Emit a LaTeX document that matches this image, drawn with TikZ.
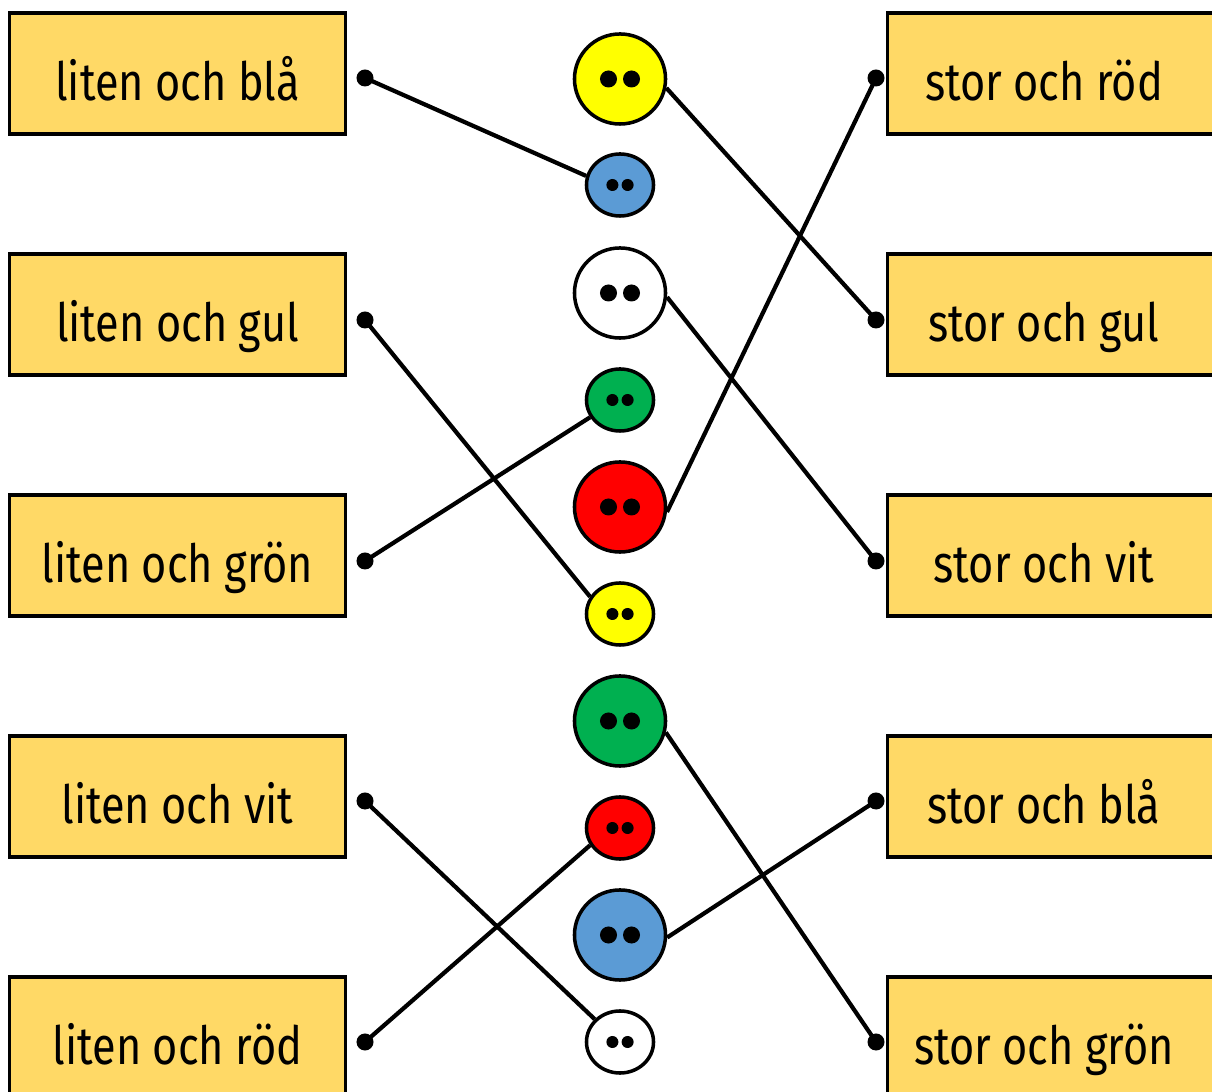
\documentclass[tikz,border=0pt]{standalone}
\usepackage{fontspec}
\setmainfont{Fira Sans}[FakeStretch=0.82]
\usetikzlibrary{calc,shapes.geometric}
\definecolor{boxgold}{HTML}{FFD966}
\definecolor{btnblue}{HTML}{5B9BD5}
\definecolor{btngreen}{HTML}{00B050}
\definecolor{btnred}{HTML}{FF0000}
\definecolor{btnyellow}{HTML}{FFFF00}

\begin{document}
\begin{tikzpicture}[x=0.01cm,y=-0.01cm,
    lbl/.style={font=\fontsize{15}{18}\selectfont, text height=0.6cm, text depth=0.07cm},
    box/.style={draw, line width=0.9pt, fill=boxgold, minimum height=1.21cm, inner sep=0pt},
    lbox/.style={box, lbl, minimum width=3.35cm},
    rbox/.style={box, minimum width=3.4cm, label={[lbl, xshift=-0.14cm]center:#1}},
    pin/.style={circle, fill, inner sep=0pt, minimum size=0.17cm},
    wire/.style={line width=1.2pt},
    btn/.style={ellipse, draw, line width=1pt, fill=#1, inner sep=0pt},
    big/.style={minimum width=0.91cm, minimum height=0.9cm, path picture={
        \fill[black] ($(path picture bounding box.center)+(-0.115cm,0)$) circle (0.085cm)
              ($(path picture bounding box.center)+(0.115cm,0)$) circle (0.085cm);}},
    small/.style={minimum width=0.67cm, minimum height=0.62cm, path picture={
        \fill[black] ($(path picture bounding box.center)+(-0.076cm,0)$) circle (0.06cm)
              ($(path picture bounding box.center)+(0.076cm,0)$) circle (0.06cm);}}]
        \useasboundingbox (0,0) rectangle (1212,1092);
        % liten
        \node[lbox] (lBla) at (177.5,73.5){liten och blå};
        \node[lbox] (lGul) at (177.5,314.5){liten och gul};
        \node[lbox] (lGron) at (177.5,555.5){liten och grön};
        \node[lbox] (lVit) at (177.5,796.5){liten och vit};
        \node[lbox] (lRod) at (177.5,1037.5){liten och röd};
        % stor
        \node[rbox={stor och röd}] (sRod) at (1058,73.5){};
        \node[rbox={stor och gul}] (sGul) at (1058,314.5){};
        \node[rbox={stor och vit}] (sVit) at (1058,555.5){};
        \node[rbox={stor och blå}] (sBla) at (1058,796.5){};
        \node[rbox={stor och grön}] (sGron) at (1058,1037.5){};
        % knappar
        \node[btn=btnyellow, big] (kGulB) at (620,79){};
        \node[btn=btnblue, small] (kBlaS) at (620,185){};
        \node[btn=white, big] (kVitB) at (620,293){};
        \node[btn=btngreen, small] (kGronS) at (620,400){};
        \node[btn=btnred, big] (kRodB) at (620,507){};
        \node[btn=btnyellow, small] (kGulS) at (620,614){};
        \node[btn=btngreen, big] (kGronB) at (620,721){};
        \node[btn=btnred, small] (kRodS) at (620,828){};
        \node[btn=btnblue, big] (kBlaB) at (620,935){};
        \node[btn=white, small] (kVitS) at (620,1042){};
        % punkter
        \node[pin] (pLBla) at (365,78){};
        \node[pin] (pLGul) at (365,320){};
        \node[pin] (pLGron) at (365,561){};
        \node[pin] (pLVit) at (365,801){};
        \node[pin] (pLRod) at (365,1042){};
        \node[pin] (pSRod) at (876,78){};
        \node[pin] (pSGul) at (876,320){};
        \node[pin] (pSVit) at (876,561){};
        \node[pin] (pSBla) at (876,801){};
        \node[pin] (pSGron) at (876,1042){};
        \draw[wire] (pLBla.center) -- (kBlaS.165);
        \draw[wire] (pLGul.center) -- (kGulS.150);
        \draw[wire] (pLGron.center) -- (kGronS.210);
        \draw[wire] (pLVit.center) -- (kVitS.138);
        \draw[wire] (pLRod.center) -- (kRodS.210);
        \draw[wire] (pSRod.center) -- (kRodB.-6);
        \draw[wire] (pSGul.center) -- (kGulB.-11);
        \draw[wire] (pSVit.center) -- (kVitB.-5);
        \draw[wire] (pSBla.center) -- (kBlaB.-3);
        \draw[wire] (pSGron.center) -- (kGronB.-14);
    \end{tikzpicture}
\end{document}
